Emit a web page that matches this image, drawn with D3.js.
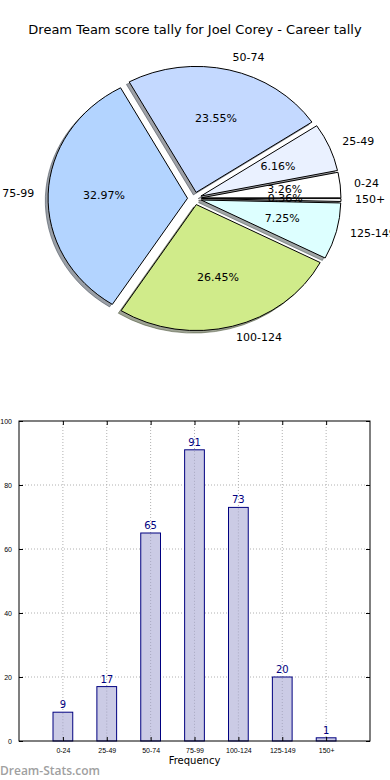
<!DOCTYPE html>
<html>
<head>
<meta charset="utf-8">
<script src="https://cdn.jsdelivr.net/npm/d3@7"></script>
<style>
  body { margin: 0; background: #fff; }
  svg { display: block; font-family: "DejaVu Sans", sans-serif; }
</style>
</head>
<body>
<script>
// score bands and how many games fell in each
var categories = ["0-24", "25-49", "50-74", "75-99", "100-124", "125-149", "150+"];
var counts = [9, 17, 65, 91, 73, 20, 1];
var sliceColors = ["#ffffff", "#eaf1ff", "#c4d9ff", "#b3d4ff", "#d0eb8a", "#ddffff", "#ffffff"];
var yTicks = [0, 20, 40, 60, 80, 100];

var width = 390, height = 780;

var svg = d3.select("body").append("svg")
  .attr("width", width)
  .attr("height", height);

// title
svg.append("text")
  .attr("x", 195)
  .attr("y", 30)
  .attr("text-anchor", "middle")
  .attr("dominant-baseline", "middle")
  .style("font-size", "13px")
  .text("Dream Team score tally for Joel Corey - Career tally");

// ---- pie ----
var cx = 194.5, cy = 198.5, rx = 139.5, ry = 126;
var explode = 0.05;
var total = d3.sum(counts);

// start at 3 o'clock and go counter-clockwise
var pie = d3.pie().sort(null).startAngle(Math.PI / 2).endAngle(Math.PI / 2 - 2 * Math.PI);
var arcs = pie(counts);
var arc = d3.arc().innerRadius(0).outerRadius(1);

function dir(d) {
  var m = (d.startAngle + d.endAngle) / 2;
  return [Math.sin(m), -Math.cos(m)];
}

var pieGroup = svg.append("g");

// shadows go under every wedge
arcs.forEach(function(d, i) {
  var v = dir(d);
  var c = d3.rgb(sliceColors[i]);
  var dark = d3.rgb(c.r * 0.3, c.g * 0.3, c.b * 0.3);
  pieGroup.append("path")
    .attr("transform", `translate(${cx + (v[0] * explode - 0.02) * rx}, ${cy + (v[1] * explode + 0.02) * ry}) scale(${rx}, ${ry})`)
    .attr("d", arc(d))
    .attr("fill", dark)
    .attr("fill-opacity", 0.5)
    .attr("stroke", dark)
    .attr("stroke-opacity", 0.5)
    .attr("vector-effect", "non-scaling-stroke");
});

arcs.forEach(function(d, i) {
  var v = dir(d);
  pieGroup.append("path")
    .attr("transform", `translate(${cx + v[0] * explode * rx}, ${cy + v[1] * explode * ry}) scale(${rx}, ${ry})`)
    .attr("d", arc(d))
    .attr("fill", sliceColors[i])
    .attr("stroke", "#000")
    .attr("stroke-width", 1)
    .attr("vector-effect", "non-scaling-stroke");
});

arcs.forEach(function(d, i) {
  var v = dir(d);
  pieGroup.append("text")
    .attr("x", cx + v[0] * (explode + 1.1) * rx)
    .attr("y", cy + v[1] * (explode + 1.1) * ry)
    .attr("text-anchor", v[0] > 0 ? "start" : "end")
    .attr("dominant-baseline", "middle")
    .style("font-size", "11px")
    .text(categories[i]);

  pieGroup.append("text")
    .attr("x", cx + v[0] * (explode + 0.6) * rx)
    .attr("y", cy + v[1] * (explode + 0.6) * ry)
    .attr("text-anchor", "middle")
    .attr("dominant-baseline", "middle")
    .style("font-size", "11px")
    .text((counts[i] / total * 100).toFixed(2) + "%");
});

// ---- bar chart ----
var plotLeft = 19, plotRight = 370, plotTop = 421, plotBottom = 741;

var x = d3.scaleLinear().domain([-1, 7]).range([plotLeft, plotRight]);
var y = d3.scaleLinear().domain([0, 100]).range([plotBottom, plotTop]);
var barW = 0.45;

var chart = svg.append("g");

// gridlines
chart.selectAll(".hgrid")
  .data(yTicks.slice(1, -1))
  .enter().append("line")
  .attr("x1", plotLeft).attr("x2", plotRight)
  .attr("y1", d => y(d)).attr("y2", d => y(d))
  .attr("stroke", "#b0b0b0")
  .attr("stroke-dasharray", "1,2");

chart.selectAll(".vgrid")
  .data(categories)
  .enter().append("line")
  .attr("x1", (d, i) => x(i)).attr("x2", (d, i) => x(i))
  .attr("y1", plotTop).attr("y2", plotBottom)
  .attr("stroke", "#b0b0b0")
  .attr("stroke-dasharray", "1,2");

// bars
chart.selectAll(".bar")
  .data(counts)
  .enter().append("rect")
  .attr("x", (d, i) => x(i - barW / 2))
  .attr("width", x(barW) - x(0))
  .attr("y", d => y(d))
  .attr("height", d => plotBottom - y(d))
  .attr("fill", "#cbcbe5")
  .attr("stroke", "#000080")
  .attr("stroke-width", 1);

// gridlines show through the bars
chart.selectAll(".vgrid2")
  .data(categories)
  .enter().append("line")
  .attr("x1", (d, i) => x(i)).attr("x2", (d, i) => x(i))
  .attr("y1", (d, i) => y(counts[i]) + 1).attr("y2", plotBottom)
  .attr("stroke", "#a8a8c0")
  .attr("stroke-dasharray", "1,2");

chart.selectAll(".val")
  .data(counts)
  .enter().append("text")
  .attr("x", (d, i) => x(i))
  .attr("y", d => y(d) - 4)
  .attr("text-anchor", "middle")
  .attr("fill", "#000080")
  .style("font-size", "10px")
  .text(d => d);

// frame
chart.append("rect")
  .attr("x", plotLeft).attr("y", plotTop)
  .attr("width", plotRight - plotLeft).attr("height", plotBottom - plotTop)
  .attr("fill", "none")
  .attr("stroke", "#000");

// inward ticks on all sides
var leftAxis = d3.axisLeft(y).tickValues(yTicks).tickSizeInner(-4).tickSizeOuter(0).tickPadding(7);
var gL = chart.append("g").attr("transform", `translate(${plotLeft},0)`).call(leftAxis);
gL.select(".domain").remove();
gL.selectAll("text").style("font-size", "7px").attr("fill", "#000");

var rightAxis = d3.axisRight(y).tickValues(yTicks).tickSizeInner(-4).tickSizeOuter(0).tickFormat("");
var gR = chart.append("g").attr("transform", `translate(${plotRight},0)`).call(rightAxis);
gR.select(".domain").remove();

var bottomAxis = d3.axisBottom(x).tickValues(d3.range(categories.length))
  .tickFormat(i => categories[i]).tickSizeInner(-4).tickSizeOuter(0).tickPadding(7);
var gB = chart.append("g").attr("transform", `translate(0,${plotBottom})`).call(bottomAxis);
gB.select(".domain").remove();
gB.selectAll("text").style("font-size", "7px").attr("fill", "#000");

var topAxis = d3.axisTop(x).tickValues(d3.range(categories.length)).tickSizeInner(-4).tickSizeOuter(0).tickFormat("");
var gT = chart.append("g").attr("transform", `translate(0,${plotTop})`).call(topAxis);
gT.select(".domain").remove();

chart.append("text")
  .attr("x", (plotLeft + plotRight) / 2)
  .attr("y", 764)
  .attr("text-anchor", "middle")
  .style("font-size", "10px")
  .text("Frequency");

// watermark
svg.append("text")
  .attr("x", 0)
  .attr("y", 775)
  .attr("fill", "#a0a0a0")
  .style("font-family", "'Open Sans', sans-serif")
  .style("font-weight", "600")
  .style("font-size", "12px")
  .text("Dream-Stats.com");
</script>
</body>
</html>
